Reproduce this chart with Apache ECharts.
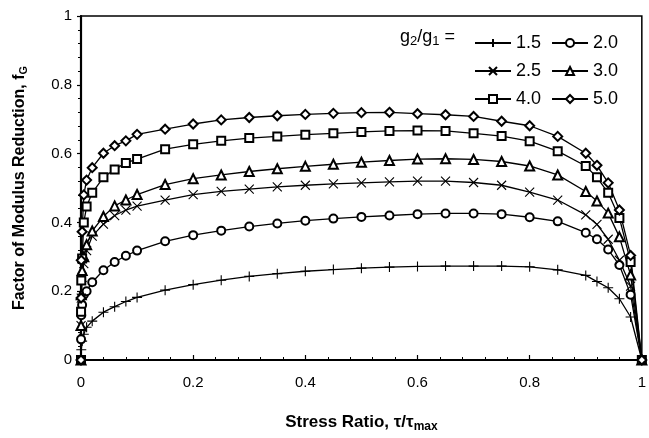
<!DOCTYPE html>
<html>
<head>
<meta charset="utf-8">
<script src="https://cdn.jsdelivr.net/npm/echarts@6/dist/echarts.min.js"></script>
<style>
html,body{margin:0;padding:0;background:#fff;}
#c{width:649px;height:438px;}
</style>
</head>
<body>
<div id="c"></div>
<script>
// Stress ratio values (x)
const stressRatio = [0, 0.0001, 0.0005, 0.002, 0.005, 0.01, 0.02, 0.04, 0.06, 0.08, 0.1, 0.15, 0.2, 0.25, 0.3, 0.35, 0.4, 0.45, 0.5, 0.55, 0.6, 0.65, 0.7, 0.75, 0.8, 0.85, 0.9, 0.92, 0.94, 0.96, 0.98, 1];
// Factor of modulus reduction for each g2/g1
const fG_15 = [0, 0.01, 0.03, 0.055, 0.075, 0.095, 0.113, 0.139, 0.155, 0.17, 0.182, 0.203, 0.219, 0.232, 0.243, 0.251, 0.258, 0.263, 0.267, 0.27, 0.272, 0.273, 0.273, 0.273, 0.271, 0.262, 0.246, 0.228, 0.21, 0.178, 0.125, 0];
const fG_20 = [0, 0.06, 0.13, 0.16, 0.19, 0.2, 0.226, 0.261, 0.285, 0.303, 0.318, 0.345, 0.363, 0.376, 0.388, 0.397, 0.405, 0.411, 0.416, 0.42, 0.424, 0.426, 0.426, 0.424, 0.415, 0.403, 0.37, 0.351, 0.321, 0.276, 0.19, 0];
const fG_25 = [0, 0.1, 0.18, 0.24, 0.28, 0.318, 0.36, 0.395, 0.42, 0.436, 0.447, 0.465, 0.481, 0.49, 0.497, 0.503, 0.508, 0.512, 0.515, 0.518, 0.52, 0.52, 0.516, 0.508, 0.488, 0.465, 0.422, 0.394, 0.351, 0.29, 0.215, 0];
const fG_30 = [0, 0.1, 0.19, 0.26, 0.3, 0.335, 0.375, 0.417, 0.448, 0.465, 0.481, 0.51, 0.527, 0.538, 0.548, 0.556, 0.563, 0.569, 0.575, 0.58, 0.584, 0.585, 0.583, 0.577, 0.564, 0.538, 0.49, 0.462, 0.427, 0.358, 0.247, 0];
const fG_40 = [0, 0.14, 0.231, 0.295, 0.4, 0.446, 0.486, 0.531, 0.554, 0.573, 0.584, 0.613, 0.627, 0.637, 0.645, 0.65, 0.655, 0.659, 0.663, 0.666, 0.667, 0.666, 0.659, 0.651, 0.636, 0.607, 0.564, 0.531, 0.486, 0.413, 0.285, 0];
const fG_50 = [0, 0.18, 0.29, 0.373, 0.48, 0.523, 0.559, 0.601, 0.623, 0.637, 0.656, 0.671, 0.686, 0.698, 0.705, 0.71, 0.714, 0.717, 0.719, 0.72, 0.716, 0.713, 0.708, 0.694, 0.681, 0.65, 0.601, 0.566, 0.515, 0.436, 0.304, 0];
const seriesNames = ['1.5', '2.0', '2.5', '3.0', '4.0', '5.0'];
const seriesValues = [fG_15, fG_20, fG_25, fG_30, fG_40, fG_50];
const axisTicks = [0, 0.2, 0.4, 0.6, 0.8, 1];

const symbols = [
  'path://M0,5L10,5M5,0L5,10',
  'emptyCircle',
  'path://M0,0L10,10M10,0L0,10',
  'emptyTriangle',
  'emptyRect',
  'emptyDiamond'
];
const symSizes = [10, 8, 9, 9, 8, 9];

const font = 'Arial, "Liberation Sans", sans-serif';

const series = seriesNames.map((n, i) => ({
  name: n,
  type: 'line',
  data: stressRatio.map((x, j) => [x, seriesValues[i][j]]),
  symbol: symbols[i],
  symbolSize: symSizes[i],
  showAllSymbol: true,
  lineStyle: { color: '#000', width: 1.3 },
  itemStyle: { color: '#000', borderColor: '#000', borderWidth: 1.1 },
  emphasis: { disabled: true },
  z: 3
}));

const chart = echarts.init(document.getElementById('c'), null, { renderer: 'canvas' });
chart.setOption({
  animation: false,
  backgroundColor: '#fff',
  grid: { left: 81, right: 5, top: 16, bottom: 69, show: true, borderColor: '#000', borderWidth: 1.5, containLabel: false },
  xAxis: {
    type: 'value', min: 0, max: 1, interval: 0.2,
    name: 'Stress Ratio, τ/τ{sub|max}',
    nameLocation: 'middle', nameGap: 52,
    nameTextStyle: {
      fontFamily: font, fontWeight: 'bold', fontSize: 17, color: '#000',
      rich: { sub: { fontFamily: font, fontWeight: 'bold', fontSize: 12, color: '#000', verticalAlign: 'bottom', padding: [9, 0, 0, 0] } }
    },
    axisLine: { lineStyle: { color: '#000', width: 2.2 } },
    axisTick: { show: true, inside: true, length: 5, lineStyle: { color: '#000', width: 1.2 } },
    minorTick: { show: true, splitNumber: 5, length: 3, lineStyle: { color: '#000', width: 1 } },
    splitLine: { show: false },
    axisLabel: { fontFamily: font, fontSize: 15, color: '#000', margin: 15,
      formatter: v => axisTicks.indexOf(Math.round(v * 10) / 10) >= 0 ? String(Math.round(v * 10) / 10) : '' }
  },
  yAxis: {
    type: 'value', min: 0, max: 1, interval: 0.2,
    name: 'Factor of Modulus Reduction, f{sub|G}',
    nameLocation: 'middle', nameGap: 52,
    nameTextStyle: {
      fontFamily: font, fontWeight: 'bold', fontSize: 16, color: '#000',
      rich: { sub: { fontFamily: font, fontWeight: 'bold', fontSize: 11, color: '#000', verticalAlign: 'bottom', padding: [8, 0, 0, 0] } }
    },
    axisLine: { lineStyle: { color: '#000', width: 2.2 } },
    axisTick: { show: true, inside: false, length: 4, lineStyle: { color: '#000', width: 1.2 } },
    minorTick: { show: true, splitNumber: 5, length: 3, lineStyle: { color: '#000', width: 1 } },
    splitLine: { show: false },
    axisLabel: { fontFamily: font, fontSize: 15, color: '#000', margin: 9,
      formatter: v => String(Math.round(v * 10) / 10) }
  },
  legend: {
    data: seriesNames,
    left: 469, top: 29, width: 170,
    orient: 'horizontal',
    itemWidth: 36, itemHeight: 10, itemGap: 10,
    textStyle: { fontFamily: font, fontSize: 18, color: '#000', width: 30 },
    selectedMode: false
  },
  graphic: [{
    type: 'text', left: 400, top: 28,
    style: {
      text: 'g{s|2}/g{s|1} =',
      font: '18px ' + font, fill: '#000',
      rich: { s: { fontSize: 13, fontFamily: font, fill: '#000', verticalAlign: 'bottom', padding: [9, 0, 0, 0] } }
    }
  }],
  series: series
});
</script>
</body>
</html>
